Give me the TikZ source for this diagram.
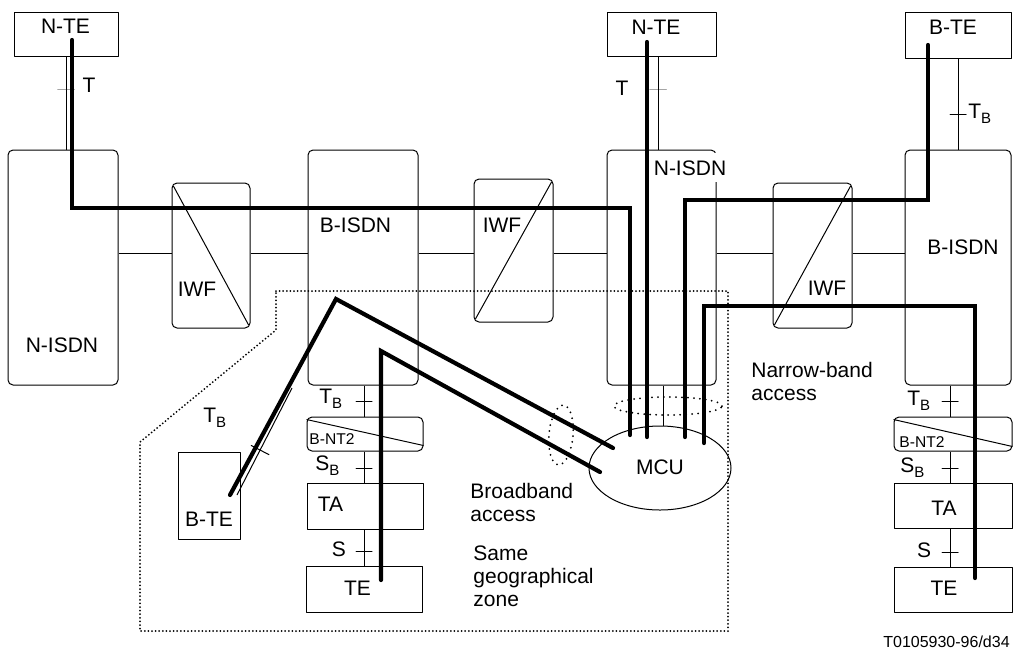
\documentclass[tikz,border=0pt]{standalone}
\usepackage{fontspec}
\setmainfont{Liberation Sans}
\usetikzlibrary{positioning,shapes.geometric}
\newcommand{\lowidx}[1]{\raisebox{-2.8pt}{\fontsize{7.5}{9}\selectfont #1}}

\begin{document}
\begin{tikzpicture}[x=0.5pt, y=-0.5pt, line join=round]
  % Styles
  \tikzset{
    net/.style={draw, rounded corners=2.5pt, line width=0.5pt, inner sep=0pt},
    term/.style={draw, line width=0.5pt, inner sep=0pt},
    txt/.style={inner sep=0pt, font=\fontsize{10.5}{11.5}\selectfont},
    tiny/.style={inner sep=0pt, font=\fontsize{7.8}{9}\selectfont},
    link/.style={line width=0.5pt},
    route/.style={line width=2.1pt, line cap=round, line join=miter},
    zone/.style={line width=1pt, line cap=round, dash pattern=on 0pt off 1.8pt},
    bundle/.style={line width=1pt, line cap=round, dash pattern=on 0pt off 3pt},
    tick/.style={draw, line width=0.5pt, minimum width=8pt, minimum height=0pt, inner sep=0pt}
  }
  \useasboundingbox (0,0) rectangle (1013,661);
  % Helper coordinates
  \coordinate (bus)  at (0,253);
  \coordinate (colA) at (364,0);
  \coordinate (colB) at (950,0);
  \coordinate (colN) at (658,0);
  \coordinate (colM) at (663,0);

  % Terminals
  \node[term, minimum width=52pt, minimum height=22pt]   (nte1) at (66,34) {};
  \node[term, minimum width=54.5pt, minimum height=22pt] (nte2) at (661.5,34) {};
  \node[term, minimum width=53pt, minimum height=23pt]   (bte1) at (958,35) {};
  \node[term, minimum width=31pt, minimum height=43.5pt] (bte2) at (209,495.5) {};
  % Networks
  \node[net, minimum width=55pt, minimum height=117.5pt]   (nisdn1) at (63,267.5) {};
  \node[net, minimum width=55pt, minimum height=117.5pt]   (bisdn1) at (363,267.5) {};
  \node[net, minimum width=54.5pt, minimum height=117.5pt] (nisdn2) at (661.5,267.5) {};
  \node[net, minimum width=53pt, minimum height=117.5pt]   (bisdn2) at (958,267.5) {};
  \node[net, minimum width=39pt, minimum height=72.5pt]    (iwf1) at (211,255.5) {};
  \node[net, minimum width=39.5pt, minimum height=71.5pt]  (iwf2) at (513.5,250.5) {};
  \node[net, minimum width=39.5pt, minimum height=72.5pt]  (iwf3) at (812.5,255.5) {};
  % Customer premises
  \node[net, minimum width=58pt, minimum height=17pt]    (bnt2a) at (365,434) {};
  \node[term, minimum width=58pt, minimum height=23pt]   (taa)   at (365,506) {};
  \node[term, minimum width=58pt, minimum height=23pt]   (tea)   at (364,589) {};
  \node[net, minimum width=59pt, minimum height=17pt]    (bnt2b) at (953,434) {};
  \node[term, minimum width=59pt, minimum height=22.5pt] (tab)   at (953,505.5) {};
  \node[term, minimum width=59pt, minimum height=22.5pt] (teb)   at (953,589.5) {};
  \node[ellipse, draw, line width=0.5pt, minimum width=71pt, minimum height=42pt, inner sep=0pt] (mcu) at (660,468) {};

  % Same geographical zone
  \draw[zone] (276,291) -- (728,291) -- (728,631) -- (140,631) -- (140,442) -- (276,330) -- cycle;
  \draw[bundle] (668,406) ellipse [x radius=27pt, y radius=4.5pt];
  \draw[bundle, rotate around={-5:(561,435)}] (561,435) ellipse [x radius=6pt, y radius=15pt];

  % Interworking links
  \draw[link] (nisdn1.east |- bus) -- (iwf1.west |- bus);
  \draw[link] (iwf1.east |- bus) -- (bisdn1.west |- bus);
  \draw[link] (bisdn1.east |- bus) -- (iwf2.west |- bus);
  \draw[link] (iwf2.east |- bus) -- (nisdn2.west |- bus);
  \draw[link] (nisdn2.east |- bus) -- (iwf3.west |- bus);
  \draw[link] (iwf3.east |- bus) -- (bisdn2.west |- bus);
  \draw[link, shorten <=2pt, shorten >=2pt] (iwf1.north west) -- (iwf1.south east);
  \draw[link, shorten <=2pt, shorten >=2pt] (iwf2.south west) -- (iwf2.north east);
  \draw[link, shorten <=2pt, shorten >=2pt] (iwf3.south west) -- (iwf3.north east);
  \draw[link] ([yshift=-1.5pt]bnt2a.north west) -- ([yshift=3pt]bnt2a.south east);
  \draw[link] ([yshift=-1.5pt]bnt2b.north west) -- ([yshift=2.5pt]bnt2b.south east);

  % Reference points
  \draw[link] (nte1.south) -- node[tick, pos=.36] {} (nte1.south |- nisdn1.north);
  \draw[link] (nte2.south -| colN) -- node[tick, pos=.36] {} (nisdn2.north -| colN);
  \draw[link] (bte1.south) -- node[tick, pos=.62] {} (bte1.south |- bisdn2.north);
  \draw[link] (bisdn1.south -| colA) -- node[tick, pos=.53] {} (bnt2a.north -| colA);
  \draw[link] (bnt2a.south -| colA) -- node[tick, pos=.56] {} (taa.north -| colA);
  \draw[link] (taa.south -| colA) -- node[tick, pos=.62] {} (tea.north -| colA);
  \draw[link] (bisdn2.south -| colB) -- node[tick, pos=.53] {} (bnt2b.north -| colB);
  \draw[link] (bnt2b.south -| colB) -- node[tick, pos=.56] {} (tab.north -| colB);
  \draw[link] (tab.south -| colB) -- node[tick, pos=.62] {} (teb.north -| colB);
  \draw[link] (nisdn2.south -| colM) -- (mcu.north -| colM);
  \coordinate (s1) at (292,388);
  \coordinate (s2) at (237,495);
  \draw[link] (s1) -- node[tick, sloped, rotate=90, pos=.58, minimum width=10pt] {} (s2);

  % Labels
  \node[txt, anchor=base] (lnte1) at (65.5,33.5) {N-TE};
  \node[txt, anchor=base] (lnte2) at (656,34) {N-TE};
  \node[txt, anchor=base] (lbte1) at (953,34) {B-TE};
  \node[txt, anchor=base] (lbte2) at (209,526) {B-TE};
  \node[txt, anchor=base] (lt1) at (89,92) {T};
  \node[txt, anchor=base] (lt2) at (622,95) {T};
  \node[txt, anchor=base west] (ltb1) at (968,118) {T\lowidx{B}};
  \node[txt, anchor=base west] (ltb2) at (203,422) {T\lowidx{B}};
  \node[txt, anchor=base] (lnisdn1) at (62,352) {N-ISDN};
  \node[txt, anchor=base, fill=white, inner xsep=0.5pt, inner ysep=3.5pt] (lnisdn2) at (690,175) {N-ISDN};
  \node[txt, anchor=base] (lbisdn1) at (355.5,232) {B-ISDN};
  \node[txt, anchor=base] (lbisdn2) at (963,254) {B-ISDN};
  \node[txt, anchor=base] (liwf1) at (197,296) {IWF};
  \node[txt, anchor=base] (liwf2) at (502,232) {IWF};
  \node[txt, anchor=base] (liwf3) at (827,295) {IWF};
  \node[txt, anchor=base] (lmcu) at (660,474) {MCU};
  \node[txt, anchor=base west] (ltba) at (319,403) {T\lowidx{B}};
  \node[tiny, anchor=base west] (lnt2a) at (309,444) {B-NT2};
  \node[txt, anchor=base west] (lsba) at (315,470) {S\lowidx{B}};
  \node[txt, anchor=base] (ltaa) at (330.5,511) {TA};
  \node[txt, anchor=base] (lsa) at (339,556) {S};
  \node[txt, anchor=base] (ltea) at (357.5,595) {TE};
  \node[txt, anchor=base west] (ltbb) at (907,405) {T\lowidx{B}};
  \node[tiny, anchor=base west] (lnt2b) at (899,447) {B-NT2};
  \node[txt, anchor=base west] (lsbb) at (900,472) {S\lowidx{B}};
  \node[txt, anchor=base] (ltab) at (944,515) {TA};
  \node[txt, anchor=base] (lsb) at (924,557) {S};
  \node[txt, anchor=base] (lteb) at (944,595) {TE};
  \node[txt, anchor=north west, align=left] (lnarrow) at (751,361.7) {Narrow-band\\access};
  \node[txt, anchor=north west, align=left] (lbroad) at (470,482.7) {Broadband\\access};
  \node[txt, anchor=north west, align=left] (lzone) at (473,545.7) {Same\\geographical\\zone};
  \node[tiny, anchor=base, font=\fontsize{8}{9}\selectfont] (lref) at (946.5,647) {T0105930-96/d34};

  % Connections through the networks
  \coordinate (p1) at (72,40);   \coordinate (q1) at (630,208); \coordinate (m1) at (630,435);
  \coordinate (p2) at (647,42);  \coordinate (m2) at (647,437);
  \coordinate (p3) at (928,45);  \coordinate (q3) at (685,200); \coordinate (m3) at (685,437);
  \coordinate (p4) at (975,578); \coordinate (q4) at (704,306); \coordinate (m4) at (704,443);
  \coordinate (p5) at (230,495); \coordinate (q5) at (336,299); \coordinate (m5) at (613,448);
  \coordinate (p6) at (381,580); \coordinate (q6) at (381,351); \coordinate (m6) at (600,472);
  \draw[route] (p1) |- (q1) -- (m1);
  \draw[route] (p2) -- (m2);
  \draw[route] (p3) |- (q3) -- (m3);
  \draw[route] (p4) |- (q4) -- (m4);
  \draw[route] (p5) -- (q5) -- (m5);
  \draw[route] (p6) -- (q6) -- (m6);
\end{tikzpicture}
\end{document}
